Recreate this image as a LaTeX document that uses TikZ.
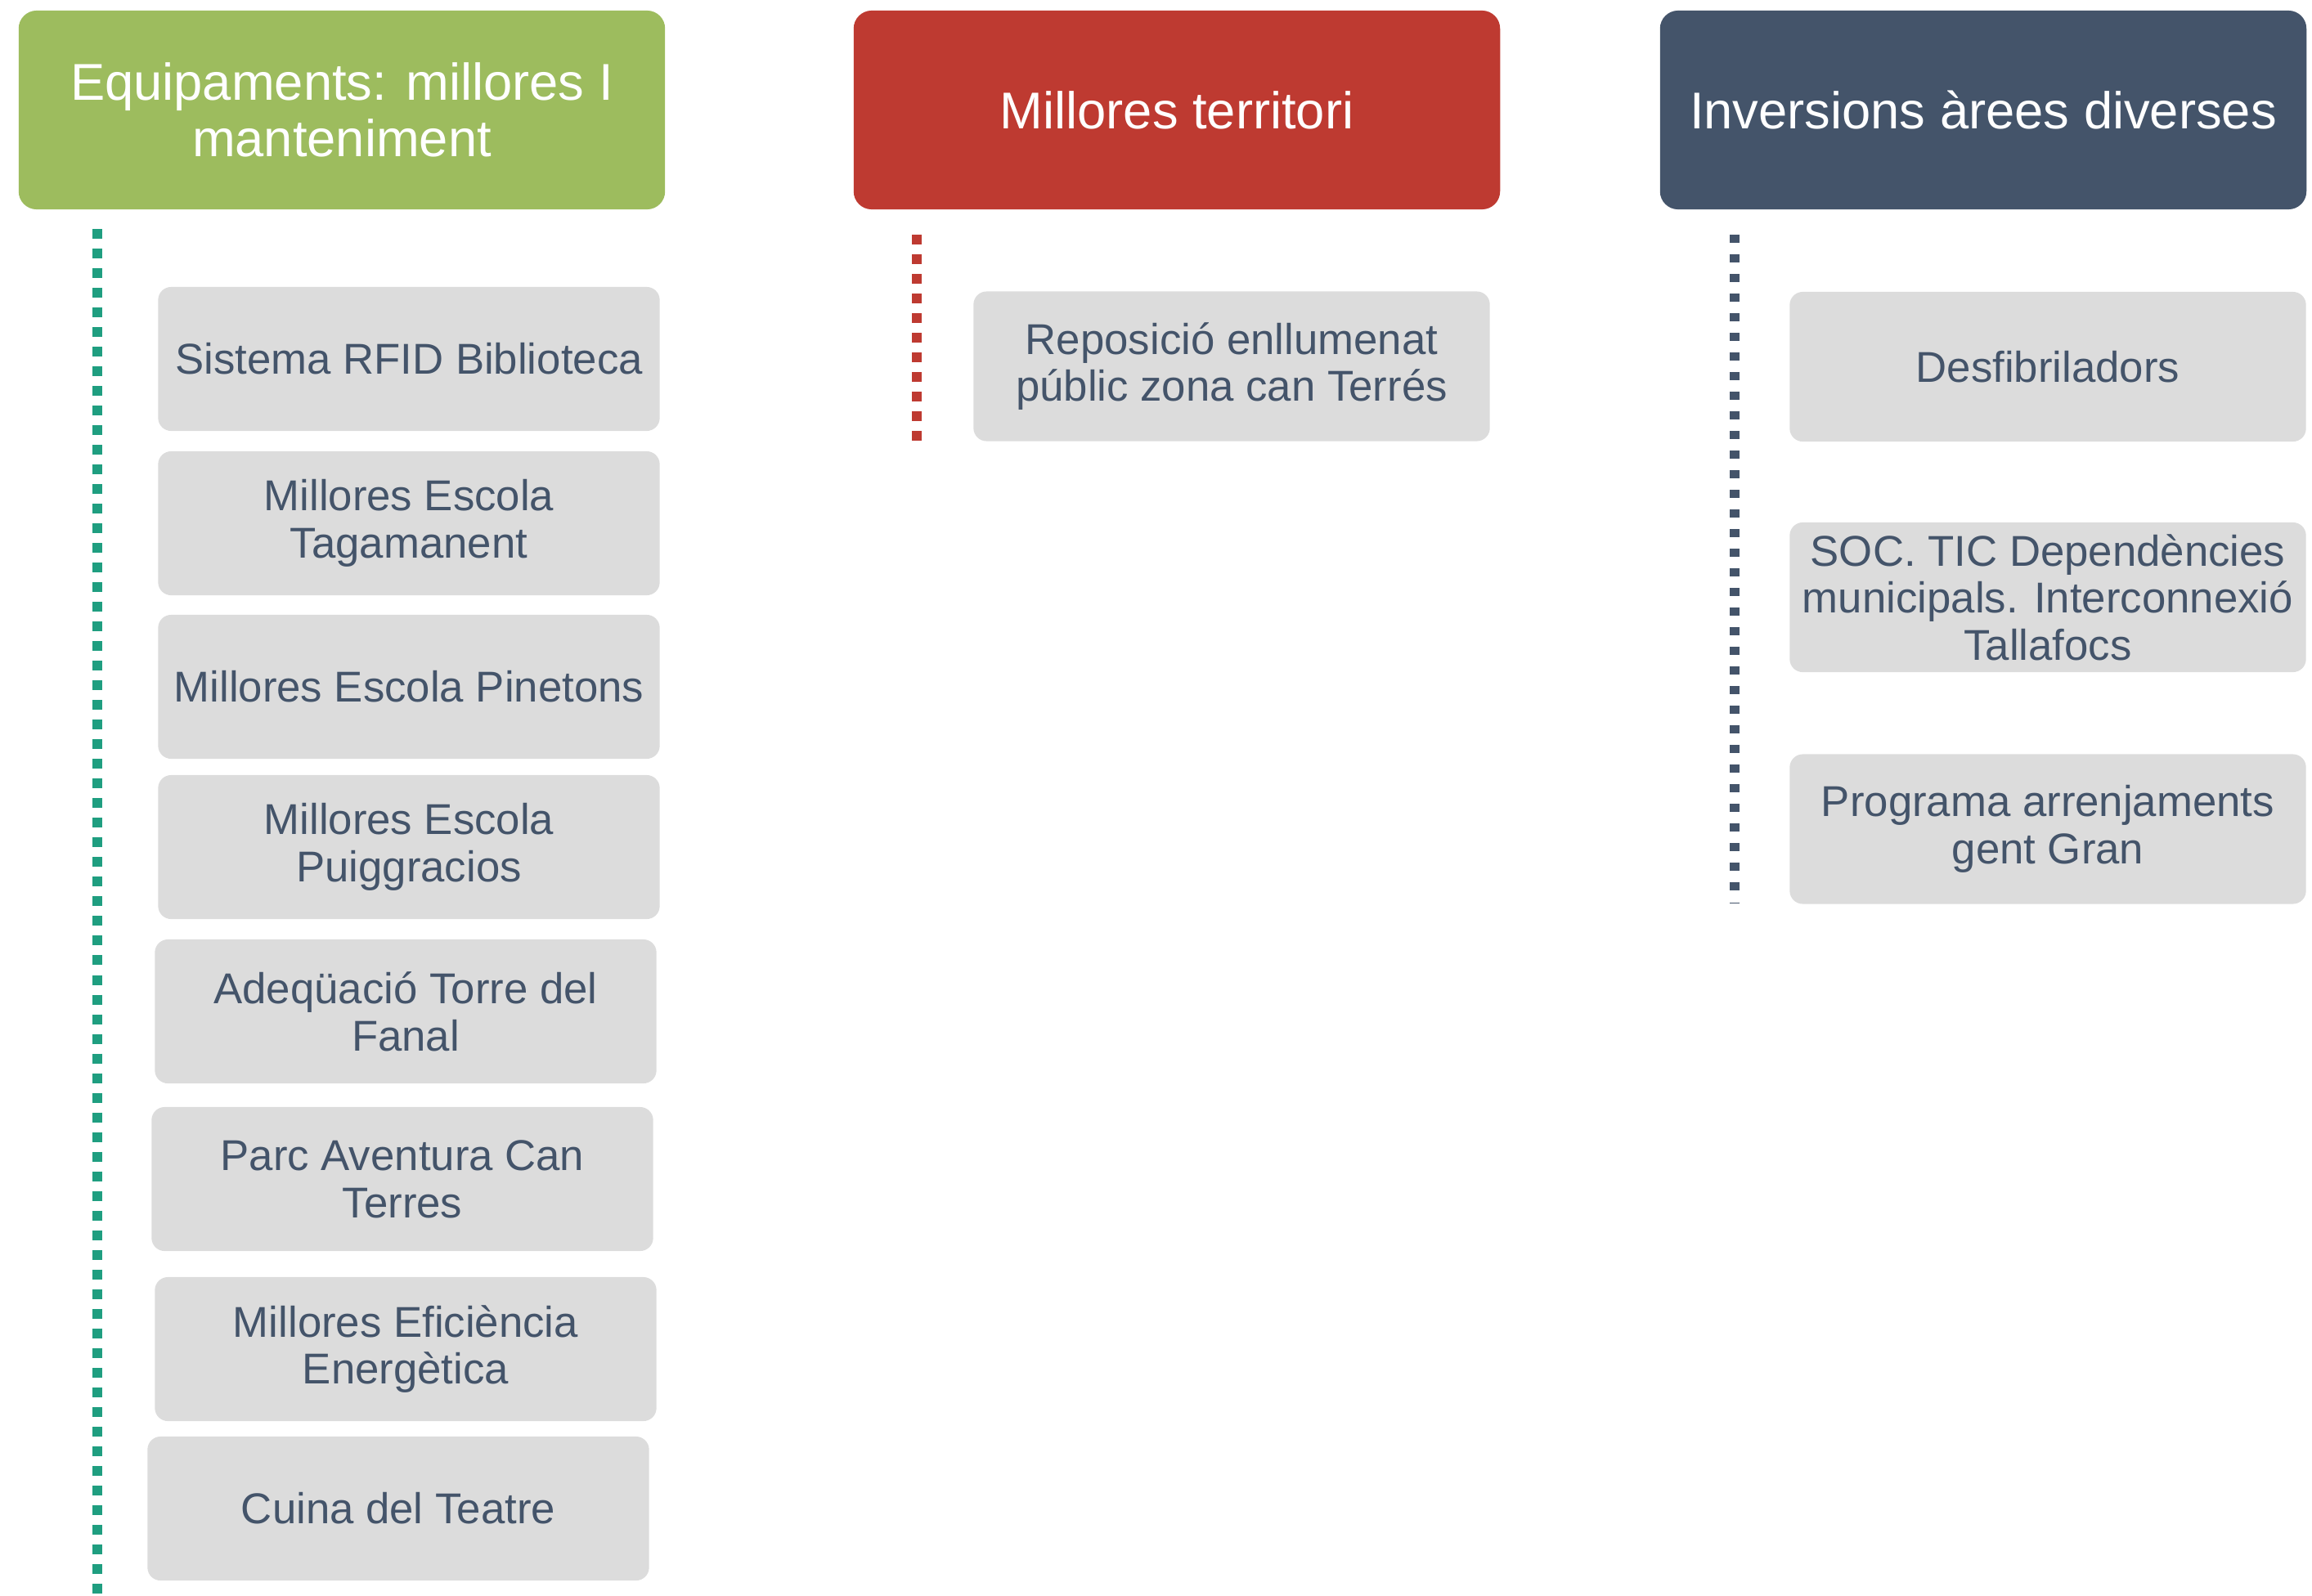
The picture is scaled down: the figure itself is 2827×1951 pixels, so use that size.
\documentclass[tikz,border=0pt]{standalone}
\usepackage{fontspec}
\setmainfont{Liberation Sans}
\usetikzlibrary{calc}

\definecolor{eqgreen}{HTML}{9DBC5E}
\definecolor{terred}{HTML}{BE3A31}
\definecolor{invslate}{HTML}{44546A}
\definecolor{boxgrey}{HTML}{DCDCDC}
\definecolor{dotteal}{HTML}{1F9E80}

\begin{document}
\begin{tikzpicture}[x=0.01cm,y=-0.01cm]

\tikzset{
	header/.style={rounded corners=0.22cm, minimum width=7.9cm, minimum height=2.43cm,
		text=white, align=center, font=\fontsize{18}{19.6}\selectfont},
	projbox/.style={fill=boxgrey, rounded corners=0.16cm, minimum width=6.13cm,
		minimum height=1.76cm, inner sep=0pt, text=invslate, align=center,
		font=\fontsize{15}{16.4}\selectfont},
	branch/.style={line width=3.6pt, dash pattern=on 0.12cm off 0.12cm}
}

\useasboundingbox (0,0) rectangle (2827,1951);

% Draw the three headers
\node[header, fill=eqgreen] (equip) at (418,134.5) {Equipaments: millores I\\manteniment};
\node[header, fill=terred] (terr) at (1439,134.5) {Millores territori};
\node[header, fill=invslate] (inver) at (2425,134.5) {Inversions àrees diverses};

% Dotted branches below each header
\coordinate (eqtop) at (119,280);
\coordinate (eqend) at (119,1951);
\coordinate (tetop) at (1121,287);
\coordinate (teend) at (1121,540);
\coordinate (intop) at (2121,287);
\coordinate (inend) at (2121,1105);

\draw[branch, dotteal] (eqtop) -- (eqend);
\draw[branch, terred] (tetop) -- (teend);
\draw[branch, invslate, dash pattern=on 0.1cm off 0.14cm] (intop) -- (inend);

% Equipaments
\node[projbox] (rfid) at (500,439) {Sistema RFID Biblioteca};
\node[projbox] (taga) at (500,640) {Millores Escola\\Tagamanent};
\node[projbox] (pine) at (500,840) {Millores Escola Pinetons};
\node[projbox] (puig) at (500,1036) {Millores Escola\\Puiggracios};
\node[projbox] (fanal) at (496,1237) {Adeqüació Torre del\\Fanal};
\node[projbox] (parc) at (492,1442) {Parc Aventura Can\\Terres};
\node[projbox] (efic) at (496,1650) {Millores Eficiència\\Energètica};
\node[projbox] (cuina) at (487,1845) {Cuina del Teatre};

% Millores territori
\node[projbox, minimum width=6.31cm, minimum height=1.83cm] (enllum) at (1506,448) {Reposició enllumenat\\públic zona can Terrés};

% Inversions
\node[projbox, minimum width=6.31cm, minimum height=1.83cm] (desf) at (2504,448.5) {Desfibriladors};
\node[projbox, minimum width=6.31cm, minimum height=1.83cm] (soc) at (2504,730.5) {SOC. TIC Dependències\\municipals. Interconnexió\\Tallafocs};
\node[projbox, minimum width=6.31cm, minimum height=1.83cm] (gran) at (2504,1014) {Programa arrenjaments\\gent Gran};

\end{tikzpicture}
\end{document}
